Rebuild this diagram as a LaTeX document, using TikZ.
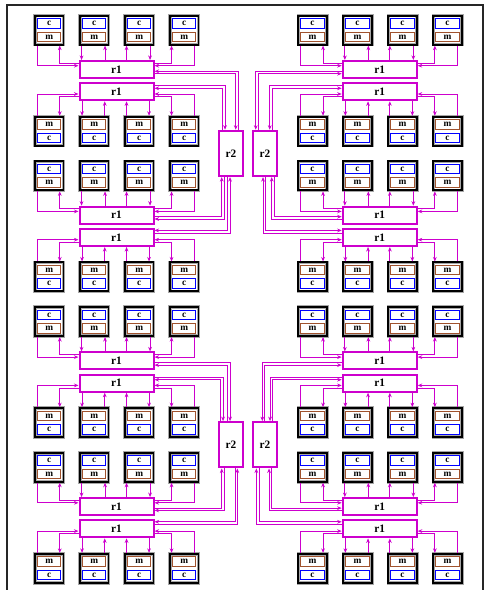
\documentclass[tikz,border=0pt]{standalone}
\usepackage{fontspec}
\setmainfont{Liberation Serif}
\usetikzlibrary{calc,arrows.meta}
\definecolor{mag}{HTML}{CD00CD}
\definecolor{cblue}{HTML}{0000FF}
\definecolor{mbrown}{HTML}{A0522D}
\tikzset{
 tile/.style={draw=black, line width=1.4pt, preaction={fill=white, draw=black!35, line width=2.6pt},
   minimum width=21.4pt, minimum height=21.75pt, inner sep=0pt},
 cbox/.style={draw=cblue, line width=0.7pt, fill=white, minimum width=17.5pt, minimum height=7pt,
   inner sep=0pt, font=\fontsize{7}{7}\selectfont\bfseries},
 mbox/.style={cbox, draw=mbrown},
 rone/.style={draw=mag, line width=1.5pt, fill=white, minimum width=55.5pt, minimum height=12.75pt,
   inner sep=0pt, font=\fontsize{8.5}{8.5}\selectfont\bfseries},
 rtwo/.style={rone, minimum width=17.5pt, minimum height=34pt},
 edge/.style={draw=mag, line width=0.75pt, -{Stealth[length=3.4pt,width=2.8pt]}},
 frameline/.style={draw=black!85, line width=1.5pt},
}
\newcommand\rrlink[7]{%
 \ifnum#7=1
   \draw[edge] ($(#1.#2)+(0,#3)$) -| ($(#4.#5)+(#6,0)$);
 \else
   \draw[edge] ($(#4.#5)+(#6,0)$) |- ($(#1.#2)+(0,#3)$);
 \fi}
\begin{document}
\begin{tikzpicture}[x=0.75pt,y=-0.75pt]
\useasboundingbox (0,0) rectangle (485,590);
\draw[frameline] (7,600) -- (7,5) -- (482.5,5) -- (482.5,600);

% r2 nodes
\node[rtwo] (Q0L) at (231,153.4) {r2};
\node[rtwo] (Q0R) at (265,153.4) {r2};
\node[rtwo] (Q1L) at (231,444.8) {r2};
\node[rtwo] (Q1R) at (265,444.8) {r2};

\foreach \k in {0,1,2,3} {
  \pgfmathsetmacro\Y{15.7+145.7*\k}
  \foreach \s/\xa/\xr in {L/35/116.5, R/298.3/379.7} {
    \node[rone] (A\k\s) at (\xr,\Y+53.8) {r1};
    \node[rone] (B\k\s) at (\xr,\Y+76.1) {r1};
    \foreach \i in {1,2,3,4} {
      \pgfmathsetmacro\cx{\xa+45*(\i-1)+14.25}
      \node[tile] (u\k\s\i) at (\cx,\Y+14.5) {};
      \node[cbox] (uc\k\s\i) at ($(u\k\s\i)+(0,-6.7)$) {c};
      \node[mbox] (um\k\s\i) at ($(u\k\s\i)+(0,6.7)$) {m};
      \node[tile] (l\k\s\i) at (\cx,\Y+115.5) {};
      \node[mbox] (lm\k\s\i) at ($(l\k\s\i)+(0,-6.7)$) {m};
      \node[cbox] (lc\k\s\i) at ($(l\k\s\i)+(0,6.7)$) {c};
    }
    % upper row <-> upper r1
    \draw[edge] ($(u\k\s1.south west)+(3,0)$) |- ($(A\k\s.north west)+(0,5.7)$);
    \draw[edge] ($(A\k\s.north west)+(0,3)$) -| ($(u\k\s1.south west)+(25.7,0)$);
    \path ($(u\k\s2.south west)+(2.5,0)$) coordinate (p1)
          ($(u\k\s2.south west)+(26,0)$) coordinate (p2)
          ($(u\k\s3.south west)+(2.5,0)$) coordinate (p3)
          ($(u\k\s3.south west)+(26,0)$) coordinate (p4);
    \draw[edge] (p1) -- (p1 |- A\k\s.north);
    \draw[edge] (p2 |- A\k\s.north) -- (p2);
    \draw[edge] (p3 |- A\k\s.north) -- (p3);
    \draw[edge] (p4) -- (p4 |- A\k\s.north);
    \draw[edge] ($(A\k\s.north east)+(0,3)$) -| ($(u\k\s4.south west)+(2.5,0)$);
    \draw[edge] ($(u\k\s4.south west)+(25,0)$) |- ($(A\k\s.north east)+(0,5.7)$);
    % lower row <-> lower r1
    \draw[edge] ($(l\k\s1.north west)+(3,0)$) |- ($(B\k\s.north west)+(0,11.7)$);
    \draw[edge] ($(B\k\s.north west)+(0,14.4)$) -| ($(l\k\s1.north west)+(25.7,0)$);
    \path ($(l\k\s2.north west)+(3,0)$) coordinate (q1)
          ($(l\k\s2.north west)+(25.7,0)$) coordinate (q2)
          ($(l\k\s3.north west)+(2.5,0)$) coordinate (q3)
          ($(l\k\s3.north west)+(25,0)$) coordinate (q4);
    \draw[edge] (q1 |- B\k\s.south) -- (q1);
    \draw[edge] (q2) -- (q2 |- B\k\s.south);
    \draw[edge] (q3) -- (q3 |- B\k\s.south);
    \draw[edge] (q4 |- B\k\s.south) -- (q4);
    \draw[edge] ($(B\k\s.north east)+(0,14.4)$) -| ($(l\k\s4.north west)+(2.5,0)$);
    \draw[edge] ($(l\k\s4.north west)+(25,0)$) |- ($(B\k\s.north east)+(0,11.7)$);
  }
}

% r1 <-> r2, top half
\rrlink{A0L}{north east}{11.3}{Q0L}{north west}{20}{0}
\rrlink{A0L}{north east}{13.7}{Q0L}{north west}{17.4}{1}
\rrlink{B0L}{north east}{3.4}{Q0L}{north west}{6.7}{1}
\rrlink{B0L}{north east}{6}{Q0L}{north west}{4}{0}
\rrlink{A1L}{north east}{11}{Q0L}{south west}{3.4}{1}
\rrlink{A1L}{north east}{13.3}{Q0L}{south west}{5.7}{0}
\rrlink{B1L}{north east}{2.4}{Q0L}{south west}{9}{0}
\rrlink{B1L}{north east}{5}{Q0L}{south west}{11.7}{1}
\rrlink{A0R}{north west}{11.3}{Q0R}{north west}{3.4}{1}
\rrlink{A0R}{north west}{13.7}{Q0R}{north west}{6}{0}
\rrlink{B0R}{north west}{3.4}{Q0R}{north west}{17.4}{1}
\rrlink{B0R}{north west}{6}{Q0R}{north west}{20}{0}
\rrlink{A1R}{north west}{11}{Q0R}{south west}{21.7}{0}
\rrlink{A1R}{north west}{13.3}{Q0R}{south west}{19.4}{1}
\rrlink{B1R}{north west}{2.4}{Q0R}{south west}{13.4}{0}
\rrlink{B1R}{north west}{5}{Q0R}{south west}{10.7}{1}
% bottom half
\rrlink{A2L}{north east}{11.3}{Q1L}{north west}{11.7}{1}
\rrlink{A2L}{north east}{13.7}{Q1L}{north west}{9.2}{0}
\rrlink{B2L}{north east}{3.4}{Q1L}{north west}{4.7}{1}
\rrlink{B2L}{north east}{6}{Q1L}{north west}{2.4}{0}
\rrlink{A3L}{north east}{11}{Q1L}{south west}{3.4}{1}
\rrlink{A3L}{north east}{13.3}{Q1L}{south west}{5.7}{0}
\rrlink{B3L}{north east}{2.4}{Q1L}{south west}{16.7}{0}
\rrlink{B3L}{north east}{5}{Q1L}{south west}{19}{1}
\rrlink{A2R}{north west}{11.3}{Q1R}{north west}{10}{1}
\rrlink{A2R}{north west}{13.7}{Q1R}{north west}{12.4}{0}
\rrlink{B2R}{north west}{3.4}{Q1R}{north west}{17.7}{1}
\rrlink{B2R}{north west}{6}{Q1R}{north west}{20}{0}
\rrlink{A3R}{north west}{11}{Q1R}{south west}{19.4}{0}
\rrlink{A3R}{north west}{13.3}{Q1R}{south west}{16.7}{1}
\rrlink{B3R}{north west}{2.4}{Q1R}{south west}{6.7}{0}
\rrlink{B3R}{north west}{5}{Q1R}{south west}{4}{1}
\end{tikzpicture}
\end{document}
